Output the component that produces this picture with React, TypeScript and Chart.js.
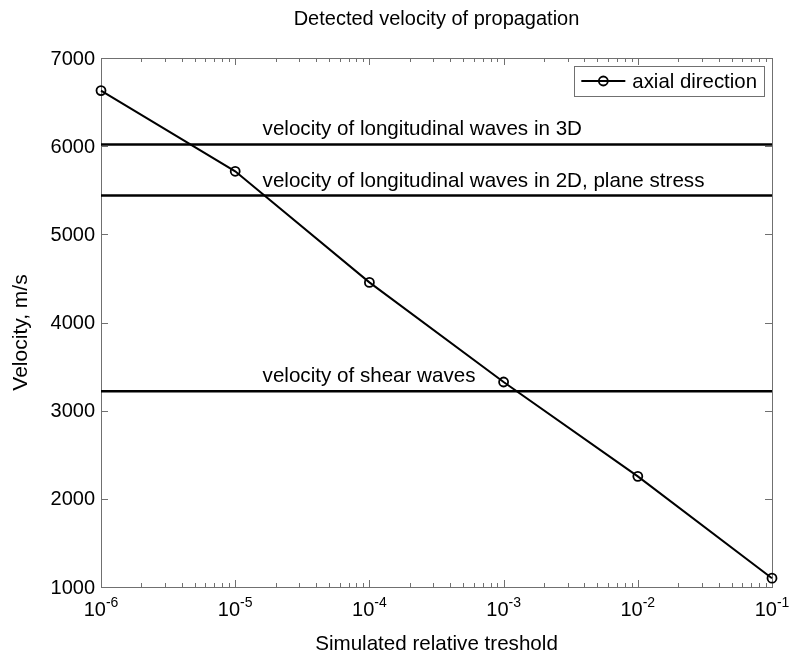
import { useEffect, useRef } from 'react';
import { Chart, registerables } from 'chart.js';

Chart.register(...registerables);

const thresholds = [1e-6, 1e-5, 1e-4, 1e-3, 1e-2, 1e-1];
const axialVelocity = [6630, 5715, 4455, 3325, 2255, 1100];
const referenceVelocities = [6020, 5440, 3220];
const referenceLabels = [
  'velocity of longitudinal waves in 3D',
  'velocity of longitudinal waves in 2D, plane stress',
  'velocity of shear waves',
];
const referenceLabelX = 1.6e-5;
const yTicks = [1000, 2000, 3000, 4000, 5000, 6000, 7000];
const xTickExponents = [-6, -5, -4, -3, -2, -1];
const TITLE = 'Detected velocity of propagation';
const X_LABEL = 'Simulated relative treshold';
const Y_LABEL = 'Velocity, m/s';
const LEGEND_LABEL = 'axial direction';

const FONT = '"Liberation Sans", Arial, Helvetica, sans-serif';
const AXIS_COLOR = '#707070';

const overlay = {
  id: 'overlay',
  beforeDatasetsDraw(chart: any) {
    const { ctx, chartArea: ca, scales } = chart;
    const xs = scales.x;
    const ys = scales.y;
    ctx.save();
    ctx.strokeStyle = AXIS_COLOR;
    ctx.lineWidth = 1;
    ctx.strokeRect(Math.round(ca.left) + 0.5, Math.round(ca.top) + 0.5, Math.round(ca.right - ca.left), Math.round(ca.bottom - ca.top));
    ctx.beginPath();
    yTicks.forEach((v) => {
      const y = Math.round(ys.getPixelForValue(v)) + 0.5;
      ctx.moveTo(ca.left, y);
      ctx.lineTo(ca.left + 7, y);
      ctx.moveTo(ca.right, y);
      ctx.lineTo(ca.right - 7, y);
    });
    xTickExponents.forEach((e, i) => {
      for (let k = 1; k <= 9; k++) {
        if (i === xTickExponents.length - 1 && k > 1) break;
        const v = k * Math.pow(10, e);
        const x = Math.round(xs.getPixelForValue(v)) + 0.5;
        const len = k === 1 ? 7 : 4;
        ctx.moveTo(x, ca.bottom);
        ctx.lineTo(x, ca.bottom - len);
        ctx.moveTo(x, ca.top);
        ctx.lineTo(x, ca.top + len);
      }
    });
    ctx.stroke();
    ctx.restore();
  },
  afterDatasetsDraw(chart: any) {
    const { ctx, chartArea: ca, scales } = chart;
    const xs = scales.x;
    const ys = scales.y;
    ctx.save();
    ctx.fillStyle = '#000';
    ctx.font = `20px ${FONT}`;
    ctx.textAlign = 'right';
    ctx.textBaseline = 'middle';
    yTicks.forEach((v) => {
      ctx.fillText(String(v), ca.left - 6, ys.getPixelForValue(v) + 1);
    });
    ctx.textBaseline = 'alphabetic';
    ctx.textAlign = 'left';
    xTickExponents.forEach((e) => {
      const x = xs.getPixelForValue(Math.pow(10, e));
      const base = '10';
      const sup = `-${Math.abs(e)}`;
      ctx.font = `20px ${FONT}`;
      const wb = ctx.measureText(base).width;
      ctx.font = `14px ${FONT}`;
      const ws = ctx.measureText(sup).width;
      const start = x - (wb + ws) / 2;
      ctx.font = `20px ${FONT}`;
      ctx.fillText(base, start, ca.bottom + 29);
      ctx.font = `14px ${FONT}`;
      ctx.fillText(sup, start + wb, ca.bottom + 20);
    });
    ctx.font = `20.6px ${FONT}`;
    ctx.textAlign = 'left';
    referenceVelocities.forEach((v, i) => {
      ctx.fillText(referenceLabels[i], xs.getPixelForValue(referenceLabelX), ys.getPixelForValue(v) - 9);
    });
    const cx = (ca.left + ca.right) / 2;
    ctx.textAlign = 'center';
    ctx.font = `20px ${FONT}`;
    ctx.fillText(TITLE, cx, 25);
    ctx.font = `20.6px ${FONT}`;
    ctx.fillText(X_LABEL, cx, ca.bottom + 63);
    ctx.save();
    ctx.translate(27, (ca.top + ca.bottom) / 2 + 10);
    ctx.rotate(-Math.PI / 2);
    ctx.font = `21px ${FONT}`;
    ctx.fillText(Y_LABEL, 0, 0);
    ctx.restore();
    ctx.font = `20.4px ${FONT}`;
    const tw = ctx.measureText(LEGEND_LABEL).width;
    const right = ca.right - 8;
    const top = ca.top + 8;
    const h = 30;
    const w = tw + 65;
    const left = right - w;
    ctx.fillStyle = '#fff';
    ctx.fillRect(left, top, w, h);
    ctx.strokeStyle = AXIS_COLOR;
    ctx.lineWidth = 1;
    ctx.strokeRect(Math.round(left) + 0.5, top + 0.5, Math.round(w), h);
    const my = top + h / 2;
    ctx.strokeStyle = '#000';
    ctx.lineWidth = 2;
    ctx.beginPath();
    ctx.moveTo(left + 7, my);
    ctx.lineTo(left + 51, my);
    ctx.stroke();
    ctx.lineWidth = 1.8;
    ctx.beginPath();
    ctx.arc(left + 29, my, 4.5, 0, Math.PI * 2);
    ctx.stroke();
    ctx.fillStyle = '#000';
    ctx.textAlign = 'left';
    ctx.textBaseline = 'middle';
    ctx.fillText(LEGEND_LABEL, left + 58, my + 1);
    ctx.restore();
  },
};

export default function App() {
  const ref = useRef<HTMLCanvasElement | null>(null);
  useEffect(() => {
    if (!ref.current) return;
    const refDatasets = referenceVelocities.map((v) => ({
      label: `ref ${v}`,
      data: [
        { x: thresholds[0], y: v },
        { x: thresholds[thresholds.length - 1], y: v },
      ],
      borderColor: '#000',
      borderWidth: 2.5,
      pointRadius: 0,
      clip: false as const,
    }));
    const chart = new Chart(ref.current, {
      type: 'line',
      data: {
        datasets: [
          ...refDatasets,
          {
            label: LEGEND_LABEL,
            data: thresholds.map((t, i) => ({ x: t, y: axialVelocity[i] })),
            borderColor: '#000',
            borderWidth: 2,
            pointRadius: 4.5,
            pointBorderWidth: 1.8,
            pointBorderColor: '#000',
            pointBackgroundColor: 'rgba(0,0,0,0)',
            clip: false as const,
          },
        ],
      },
      options: {
        animation: false,
        responsive: false,
        devicePixelRatio: 1,
        layout: { padding: { left: 101, right: 17, top: 58, bottom: 67 } },
        plugins: { legend: { display: false }, tooltip: { enabled: false }, title: { display: false } },
        scales: {
          x: { type: 'logarithmic', min: 1e-6, max: 1e-1, display: false },
          y: { type: 'linear', min: 1000, max: 7000, display: false },
        },
      },
      plugins: [overlay],
    });
    return () => chart.destroy();
  }, []);
  return (
    <div style={{ position: 'fixed', left: 0, top: 0, width: 789, height: 654, background: '#fff' }}>
      <canvas ref={ref} width={789} height={654} style={{ width: 789, height: 654, display: 'block' }} />
    </div>
  );
}
